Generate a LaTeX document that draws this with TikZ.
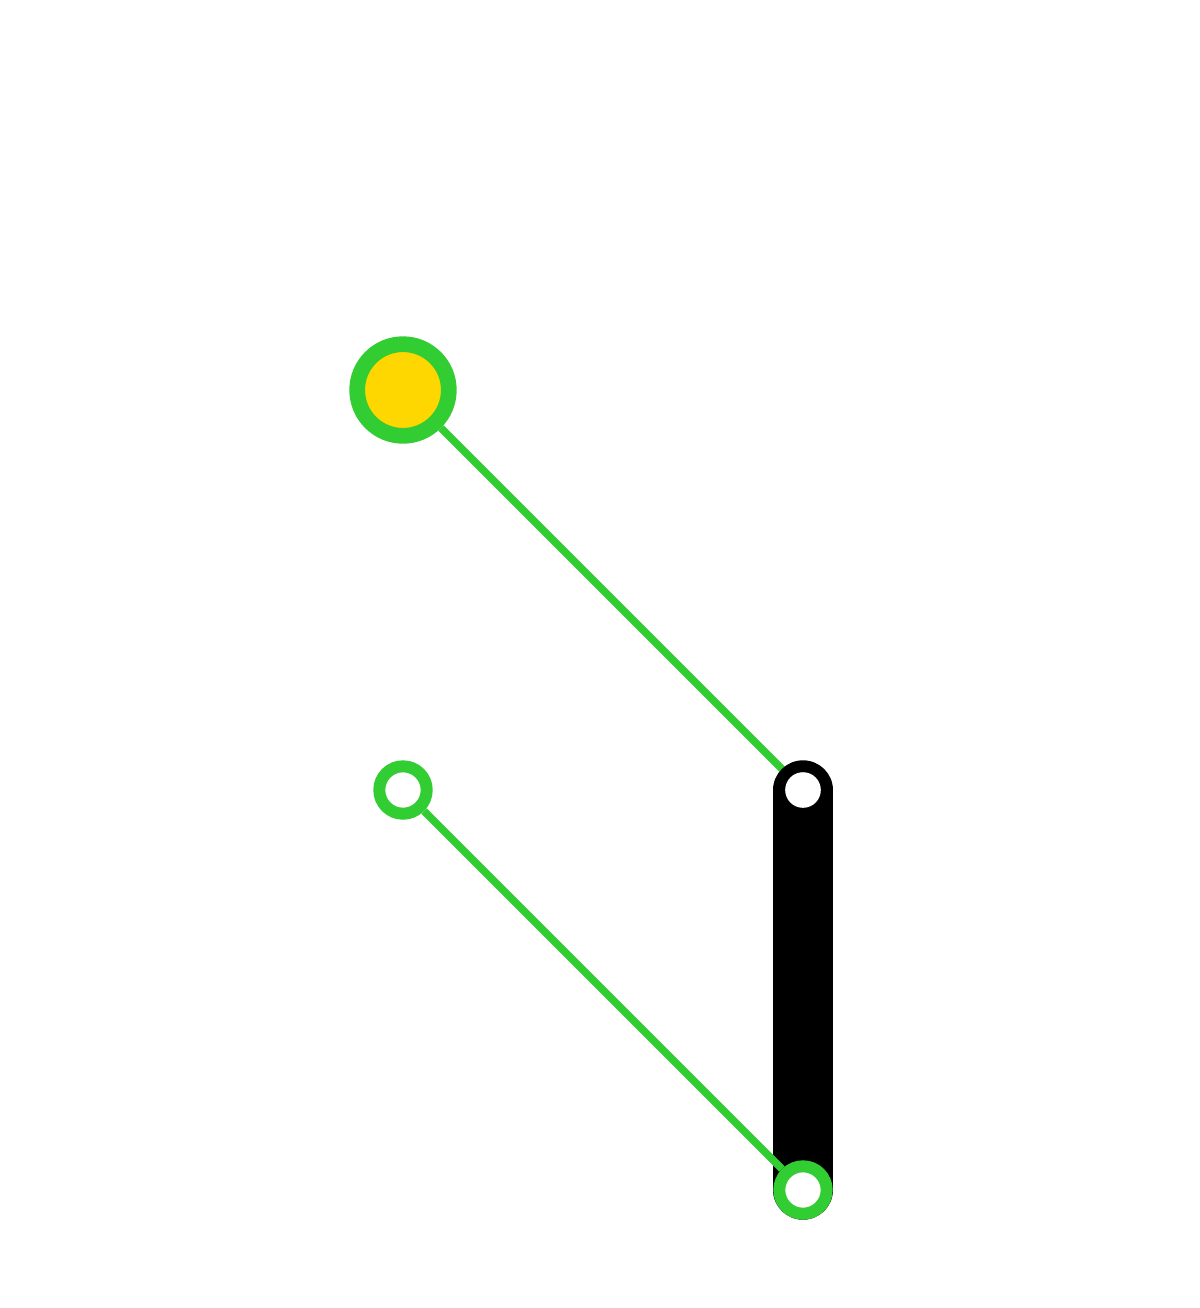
\documentclass[tikz,border=0pt]{standalone}
\usepackage{tikz}
\usetikzlibrary{backgrounds}
\definecolor{limegreen}{RGB}{50,205,50}
\definecolor{gold}{RGB}{255,215,0}

\begin{document}
\begin{tikzpicture}[x=0.01cm, y=-0.01cm,
    bigjoint/.style={circle, inner sep=0pt, minimum size=0.916cm, draw=limegreen, line width=4.47pt, fill=gold},
    smalljoint/.style={circle, inner sep=0pt, minimum size=0.474cm, draw=limegreen, line width=3.41pt, fill=white},
    pin/.style={circle, inner sep=0pt, minimum size=0.356cm, fill=white},
    link/.style={draw=limegreen, line width=2.13pt},
    bar/.style={draw=black, line width=16.9pt, line cap=round}]
    \useasboundingbox (0,0) rectangle (1200,1308);
    % joints
    \node[bigjoint] (fixed) at (403,390) {};
    \node[pin] (bartop) at (803,790) {};
    \node[smalljoint] (free) at (403,790) {};
    \node[smalljoint] (barbot) at (803,1190) {};
    \begin{pgfonlayer}{background}
        \draw[link] (fixed) -- (bartop);
        \draw[bar] (bartop.center) -- (barbot.center);
    \end{pgfonlayer}
    % second link
    \draw[link] (free) -- (barbot);
\end{tikzpicture}
\end{document}
